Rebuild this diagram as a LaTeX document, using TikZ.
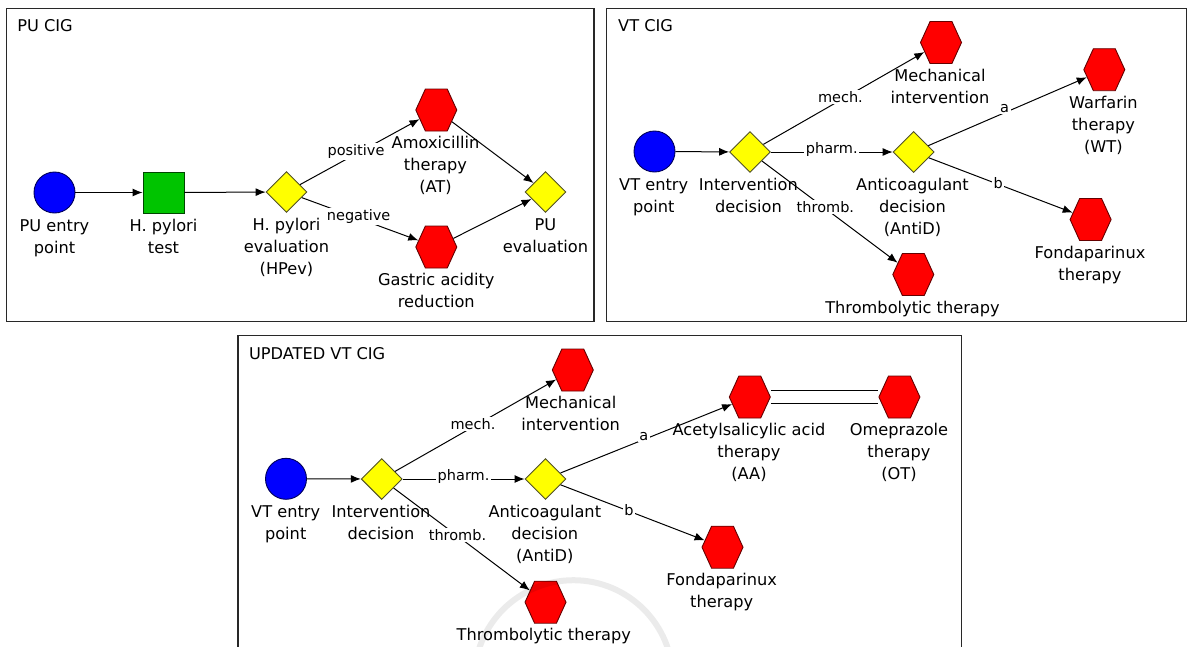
\documentclass[tikz,border=0pt]{standalone}
\usepackage{fontspec}
\setmainfont{DejaVu Sans}
\usetikzlibrary{arrows.meta,shapes.geometric,shapes.symbols}
\definecolor{cblue}{RGB}{0,0,255}
\definecolor{cblueb}{RGB}{0,0,90}
\definecolor{cgreen}{RGB}{0,196,0}
\definecolor{cgreenb}{RGB}{0,70,0}
\definecolor{cyellow}{RGB}{255,255,0}
\definecolor{cyellowb}{RGB}{80,80,40}
\definecolor{cred}{RGB}{255,0,0}
\definecolor{credb}{RGB}{100,0,0}
\definecolor{panelframe}{RGB}{40,40,40}
\newcommand\lstrut{\rule{0pt}{13pt}}
\tikzset{
 startnode/.style={circle, fill=cblue, draw=cblueb, line width=0.9pt, minimum size=41pt, inner sep=0pt},
 tasknode/.style={rectangle, fill=cgreen, draw=cgreenb, line width=0.9pt, minimum size=41pt, inner sep=0pt},
 decnode/.style={diamond, aspect=1, fill=cyellow, draw=cyellowb, line width=0.9pt, minimum size=41pt, inner sep=0pt},
 actnode/.style={signal, signal to=west and east, signal pointer angle=131, fill=cred, draw=credb, line width=0.9pt, minimum width=41pt, minimum height=42pt, inner sep=0pt},
 lbl/.style={anchor=north, inner sep=0pt, align=center, font=\fontsize{16.2}{22}\selectfont},
 elbl/.style={fill=white, inner sep=1.5pt, font=\fontsize{14.5}{17}\selectfont},
 title/.style={anchor=west, inner sep=0pt, font=\fontsize{16.2}{20}\selectfont},
 flow/.style={draw=black, line width=1pt, -{Latex[length=10pt,width=8pt]}},
 pair/.style={draw=black, line width=1pt},
 panel/.style={draw=panelframe, line width=1.2pt},
 wmark/.style={draw=black, opacity=0.08, line width=6pt},
}
\begin{document}
\begin{tikzpicture}[x=1pt,y=-1pt]
\useasboundingbox (0,0) rectangle (1189,646);
% ---------------- PU CIG ----------------
\draw[panel] (6.5,8.3) rectangle (594,321.7);
\node[title] (t1) at (17.2,26) {PU CIG};
\node[startnode] (pue) at (54.5,192.5) {};
\node[tasknode] (hpt) at (163.5,192.5) {};
\node[decnode] (hpev) at (286.5,192) {};
\node[actnode] (amox) at (436.3,110) {};
\node[actnode] (gast) at (436.3,247) {};
\node[decnode] (pueval) at (545.5,192) {};
\node[lbl] (pue-l) at (54.5,218) {\lstrut PU entry\\point};
\node[lbl] (hpt-l) at (163.5,218) {\lstrut H. pylori\\test};
\node[lbl] (hpev-l) at (286.5,217.5) {\lstrut H. pylori\\evaluation\\(HPev)};
\node[lbl] (amox-l) at (435.5,135.5) {\lstrut Amoxicillin\\therapy\\(AT)};
\node[lbl] (gast-l) at (436.3,272.5) {\lstrut Gastric acidity\\reduction};
\node[lbl] (pueval-l) at (545.5,217.5) {\lstrut PU\\evaluation};
\draw[flow] (pue) -- (hpt);
\draw[flow] (hpt) -- (hpev);
\draw[flow] (hpev) -- (amox);
\draw[flow] (hpev) -- (gast);
\draw[flow] (amox) -- (pueval);
\draw[flow] (gast) -- (pueval);
\node[elbl] (e-pos) at (356,151.7) {positive};
\node[elbl] (e-neg) at (358.6,216.7) {negative};
% ---------------- VT CIG ----------------
\draw[panel] (606.5,8.3) rectangle (1186.5,321.7);
\node[title] (t2) at (618,26) {VT CIG};
\node[startnode] (vte) at (654.5,151.5) {};
\node[decnode] (intd) at (750,152) {};
\node[actnode] (mech) at (941,42.5) {};
\node[decnode] (antid) at (913.6,152) {};
\node[actnode] (warf) at (1104.3,69.7) {};
\node[actnode] (fonda) at (1090.6,219.5) {};
\node[actnode] (thromb) at (913.3,274.5) {};
\node[lbl] (vte-l) at (653.7,177) {\lstrut VT entry\\point};
\node[lbl] (intd-l) at (748.4,177.5) {\lstrut Intervention\\decision};
\node[lbl] (mech-l) at (940,68) {\lstrut Mechanical\\intervention};
\node[lbl] (antid-l) at (912.5,177.5) {\lstrut Anticoagulant\\decision\\(AntiD)};
\node[lbl] (warf-l) at (1103.4,95.2) {\lstrut Warfarin\\therapy\\(WT)};
\node[lbl] (fonda-l) at (1090,245) {\lstrut Fondaparinux\\therapy};
\node[lbl] (thromb-l) at (912.5,300) {\lstrut Thrombolytic therapy};
\draw[flow] (vte) -- (intd);
\draw[flow] (intd) -- (mech);
\draw[flow] (intd) -- (antid);
\draw[flow] (intd) -- (thromb);
\draw[flow] (antid) -- (warf);
\draw[flow] (antid) -- (fonda);
\node[elbl] (e-mech) at (840.4,96.7) {mech.};
\node[elbl] (e-pharm) at (831.8,149) {pharm.};
\node[elbl] (e-thromb) at (825.4,207.3) {thromb.};
\node[elbl] (e-a) at (1004.6,108.3) {a};
\node[elbl] (e-b) at (998.2,182.7) {b};
% ---------------- UPDATED VT CIG ----------------
\draw[panel] (238,648) -- (238,335.7) -- (961.5,335.7) -- (961.5,648);
\node[title] (t3) at (248.9,354) {UPDATED VT CIG};
\node[startnode] (vte2) at (286,478.8) {};
\node[decnode] (intd2) at (381.7,479) {};
\node[actnode] (mech2) at (572.8,370) {};
\node[decnode] (antid2) at (545.5,479) {};
\node[actnode] (aa) at (749.8,397) {};
\node[actnode] (ot) at (899.4,397) {};
\node[actnode] (fonda2) at (722.5,547.2) {};
\node[actnode] (thromb2) at (545.5,602.2) {};
\node[lbl] (vte2-l) at (285.7,504.3) {\lstrut VT entry\\point};
\node[lbl] (intd2-l) at (381,504.5) {\lstrut Intervention\\decision};
\node[lbl] (mech2-l) at (570.7,395.5) {\lstrut Mechanical\\intervention};
\node[lbl] (antid2-l) at (544.8,504.5) {\lstrut Anticoagulant\\decision\\(AntiD)};
\node[lbl] (aa-l) at (749,422.5) {\lstrut Acetylsalicylic acid\\therapy\\(AA)};
\node[lbl] (ot-l) at (899,422.5) {\lstrut Omeprazole\\therapy\\(OT)};
\node[lbl] (fonda2-l) at (721.7,572.7) {\lstrut Fondaparinux\\therapy};
\node[lbl] (thromb2-l) at (543.8,627.7) {\lstrut Thrombolytic therapy};
\draw[flow] (vte2) -- (intd2);
\draw[flow] (intd2) -- (mech2);
\draw[flow] (intd2) -- (antid2);
\draw[flow] (intd2) -- (thromb2);
\draw[flow] (antid2) -- (aa);
\draw[flow] (antid2) -- (fonda2);
\draw[pair] ([yshift=6.5pt]aa.east) -- ([yshift=6.5pt]ot.west);
\draw[pair] ([yshift=-6.5pt]aa.east) -- ([yshift=-6.5pt]ot.west);
\node[elbl] (e-mech2) at (473,424.3) {mech.};
\node[elbl] (e-pharm2) at (463.6,476.7) {pharm.};
\node[elbl] (e-thromb2) at (457.5,535) {thromb.};
\node[elbl] (e-a2) at (643.9,436.7) {a};
\node[elbl] (e-b2) at (629,510) {b};
% watermark arc
\draw[wmark] (573.5,679.5) circle[radius=99.3pt];
\end{tikzpicture}
\end{document}
